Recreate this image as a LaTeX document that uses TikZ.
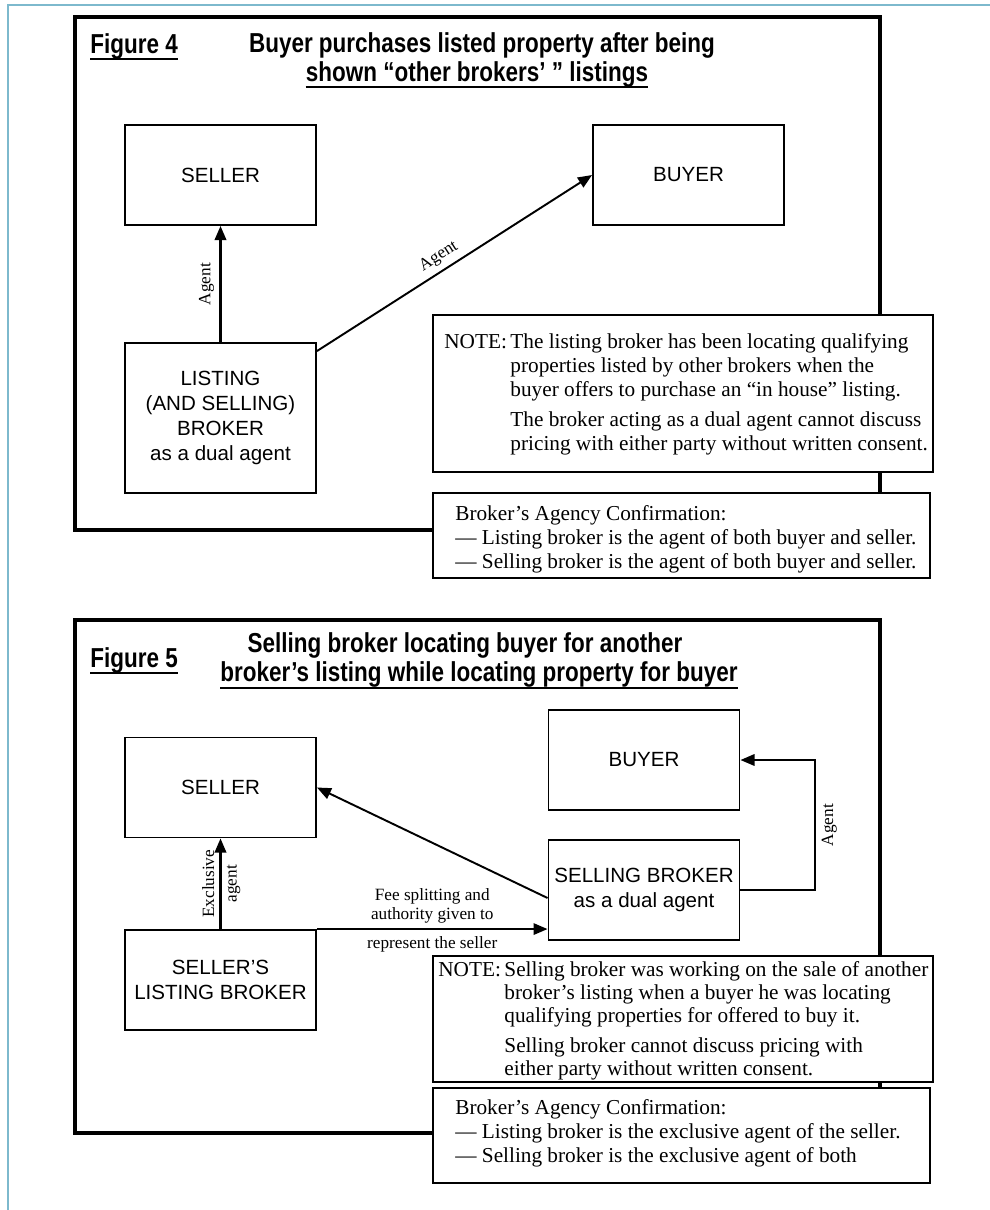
\documentclass[tikz,border=0pt]{standalone}
\usepackage{fontspec}
\setmainfont{Liberation Serif}
\setsansfont{Liberation Sans}
\newfontfamily\headfont[FakeStretch=0.82]{Liberation Sans}
\usetikzlibrary{arrows.meta,calc}
\definecolor{pageblue}{RGB}{125,185,205}
\tikzset{
  party/.style={draw, line width=1.1pt, minimum width=3.82cm, minimum height=2cm, inner sep=2pt, align=center, font=\fontsize{11.7}{14.2}\selectfont\sffamily},
  head/.style={inner sep=0pt, font=\fontsize{15.6}{18}\selectfont\headfont\bfseries},
  tag/.style={inner sep=3pt, font=\fontsize{9.8}{10.8}\selectfont},
  notebox/.style={draw, fill=white, line width=1.1pt},
  notetext/.style={inner sep=0pt, anchor=base west, font=\fontsize{12.1}{13.7}\selectfont},
  frame/.style={draw, line width=2.2pt},
  rule/.style={line width=1.2pt}
}
\begin{document}
\begin{tikzpicture}[x=0.02cm, y=-0.02cm, >={Triangle[length=8pt,width=6.5pt]}]
\useasboundingbox (0,0) rectangle (990,1210);
\draw[pageblue, line width=1.3pt] (8,1210) -- (8,5) -- (990,5);

% Figure 4
\draw[frame] (75,17) rectangle (880,530);
\node[head, anchor=base west] (fig4) at (90,53) {Figure 4};
\draw[rule] ($(fig4.base west)+(0,6)$) -- ($(fig4.base east)+(0,6)$);
\node[head, anchor=base] (title4a) at (482,52) {Buyer purchases listed property after being};
\node[head, anchor=base] (title4b) at (477,81) {shown “other brokers’ ” listings};
\draw[rule] ($(title4b.base west)+(0,6)$) -- ($(title4b.base east)+(0,6)$);

\node[party] (seller4) at (220.5,175) {SELLER};
\node[party] (buyer4) at (688.5,175) {BUYER};
\node[party, minimum height=3cm] (list4) at (220.5,418) {LISTING\\(AND SELLING)\\BROKER\\as a dual agent};
\draw[->, line width=1.3pt] (list4.north) -- node[tag, rotate=90, anchor=south] (agent4a) {Agent} (seller4.south);
\draw[->, line width=1.1pt] ($(list4.north east)+(0,9)$) -- node[tag, sloped, above, pos=0.47] (agent4b) {Agent} (buyer4.west);

\draw[notebox] (433,315) rectangle (933,472);
\node[notetext] (note4) at (444,348) {\begin{tabular}[t]{@{}l@{\hspace{2pt}}l@{}}
NOTE: & The listing broker has been locating qualifying\\
 & properties listed by other brokers when the\\
 & buyer offers to purchase an “in house” listing.\\[3.4pt]
 & The broker acting as a dual agent cannot discuss\\
 & pricing with either party without written consent.
\end{tabular}};
\draw[notebox] (433,493) rectangle (930,578);
\node[notetext] (conf4) at (455,520) {\begin{tabular}[t]{@{}l@{}}
Broker’s Agency Confirmation:\\
— Listing broker is the agent of both buyer and seller.\\
— Selling broker is the agent of both buyer and seller.
\end{tabular}};

% Figure 5
\draw[frame] (75,620) rectangle (880,1133);
\node[head, anchor=base west] (fig5) at (90,667) {Figure 5};
\draw[rule] ($(fig5.base west)+(0,6)$) -- ($(fig5.base east)+(0,6)$);
\node[head, anchor=base] (title5a) at (465,652) {Selling broker locating buyer for another};
\node[head, anchor=base] (title5b) at (479,681) {broker’s listing while locating property for buyer};
\draw[rule] ($(title5b.base west)+(0,7)$) -- ($(title5b.base east)+(0,7)$);

\node[party] (seller5) at (220.5,787.5) {SELLER};
\node[party] (buyer5) at (644,760) {BUYER};
\node[party] (sell5) at (644,890) {SELLING BROKER\\as a dual agent};
\node[party] (list5) at (220.5,980) {SELLER’S\\LISTING BROKER};
\draw[->, line width=1.1pt] ($(sell5.west)+(0,8)$) -- (seller5.east);
\draw[->, line width=1.2pt] (list5.north) -- node[tag, rotate=90, anchor=south] (excl5) {Exclusive} node[tag, rotate=90, anchor=north] (agent5a) {agent} (seller5.south);
\draw[->, line width=1.1pt] (list5.north east) -- node[tag, above, align=center] (fee5) {Fee splitting and\\authority given to} node[tag, below, yshift=-1pt] (rep5) {represent the seller} (list5.north east -| sell5.west);
\draw[->, line width=1.1pt] (sell5.east) -- ++(75,0) |- node[tag, pos=0.25, rotate=90, anchor=north] (agent5b) {Agent} (buyer5.east);

\draw[notebox] (433,956) rectangle (933,1082);
\node[notetext, font=\fontsize{12.1}{13.1}\selectfont] (note5) at (438,976) {\begin{tabular}[t]{@{}l@{\hspace{2pt}}l@{}}
NOTE: & Selling broker was working on the sale of another\\
 & broker’s listing when a buyer he was locating\\
 & qualifying properties for offered to buy it.\\[4pt]
 & Selling broker cannot discuss pricing with\\
 & either party without written consent.
\end{tabular}};
\draw[notebox] (433,1088) rectangle (930,1183);
\node[notetext] (conf5) at (455,1114) {\begin{tabular}[t]{@{}l@{}}
Broker’s Agency Confirmation:\\
— Listing broker is the exclusive agent of the seller.\\
— Selling broker is the exclusive agent of both
\end{tabular}};
\end{tikzpicture}
\end{document}
